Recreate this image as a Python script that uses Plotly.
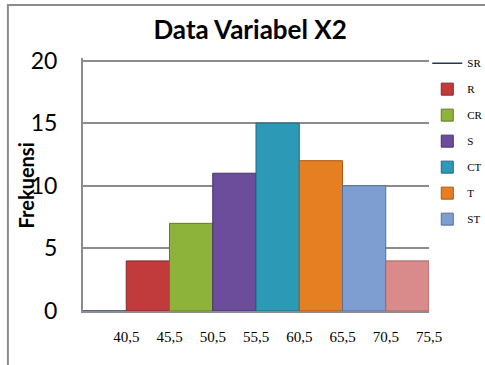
import numpy as np
import plotly.graph_objects as go

# ---- data ----
class_bounds = [35.5, 40.5, 45.5, 50.5, 55.5, 60.5, 65.5, 70.5, 75.5]
frequencies = [0, 4, 7, 11, 15, 12, 10, 4]
series_names = ["SR", "R", "CR", "S", "CT", "T", "ST", ""]
tick_values = [40.5, 45.5, 50.5, 55.5, 60.5, 65.5, 70.5, 75.5]
tick_labels = ["40,5", "45,5", "50,5", "55,5", "60,5", "65,5", "70,5", "75,5"]
y_ticks = [0, 5, 10, 15, 20]
bar_colors = ["#1F3A5F", "#C23B3C", "#8DB33A", "#6C4D9B", "#2C9AB7",
              "#E67E22", "#7E9DD1", "#D98B8B"]
edge_colors = ["#14263F", "#8A2526", "#5F7C22", "#47316B", "#1B6A80",
               "#A85610", "#556F9C", "#A86060"]

bounds = np.array(class_bounds)
mids = (bounds[:-1] + bounds[1:]) / 2
widths = bounds[1:] - bounds[:-1]

fig = go.Figure()
for i, (name, f) in enumerate(zip(series_names, frequencies)):
    if f == 0:
        # zero-frequency class: drawn as a flat line at its value
        fig.add_trace(go.Scatter(
            x=[bounds[i], bounds[i + 1]], y=[f, f], mode="lines",
            line=dict(color=bar_colors[i], width=1.5), name=name,
            legendgroup=f"g{i}", showlegend=True,
        ))
    else:
        fig.add_trace(go.Bar(
            x=[mids[i]], y=[f], width=[widths[i]], name=name,
            legendgroup=f"g{i}", showlegend=bool(name),
            marker=dict(color=bar_colors[i],
                        line=dict(color=edge_colors[i], width=1)),
        ))

fig.update_layout(
    width=485, height=365,
    margin=dict(l=83, r=56, t=58, b=54, autoexpand=False),
    paper_bgcolor="white", plot_bgcolor="white",
    barmode="overlay", bargap=0,
    showlegend=True,
    title=dict(text="<b>Data Variabel X2</b>", x=0.483, xref="paper",
               y=0.918, yref="container", xanchor="center", yanchor="middle",
               font=dict(family="Lato", size=26, color="black")),
    legend=dict(x=0.995, y=1.037, xanchor="left", yanchor="top",
                font=dict(family="Liberation Serif", size=11, color="black"),
                tracegroupgap=7, itemwidth=30, bgcolor="rgba(0,0,0,0)",
                maxheight=400),
    xaxis=dict(range=[class_bounds[0], class_bounds[-1]],
               tickvals=tick_values, ticktext=tick_labels,
               showgrid=False, zeroline=False, showline=True,
               linecolor="#8c8c8c", linewidth=2, ticks="",
               layer="above traces", automargin=False,
               ticklabelstandoff=11,
               tickfont=dict(family="Liberation Serif", size=15, color="black")),
    yaxis=dict(range=[0, 20.2], tickvals=y_ticks,
               showgrid=True, gridcolor="#8c8c8c", gridwidth=2,
               zeroline=False, showline=True, linecolor="#8c8c8c",
               linewidth=2, ticks="", ticklabelstandoff=19,
               automargin=False,
               tickfont=dict(family="Lato", size=23, color="black")),
    annotations=[dict(text="<b>Frekuensi</b>", textangle=-90,
                      xref="paper", yref="paper", x=-0.165, y=0.496,
                      xanchor="center", yanchor="middle", showarrow=False,
                      font=dict(family="Lato", size=20, color="black"))],
    shapes=[dict(type="rect", xref="paper", yref="paper",
                 x0=-0.217, x1=1.6, y0=-0.6, y1=1.2095,
                 line=dict(color="#8c8c8c", width=2), layer="below")],
)

fig.write_html("out.html",
               config={"displayModeBar": False, "staticPlot": True},
               post_script="document.body.style.margin='0';"
                           "document.body.style.overflow='hidden';")
